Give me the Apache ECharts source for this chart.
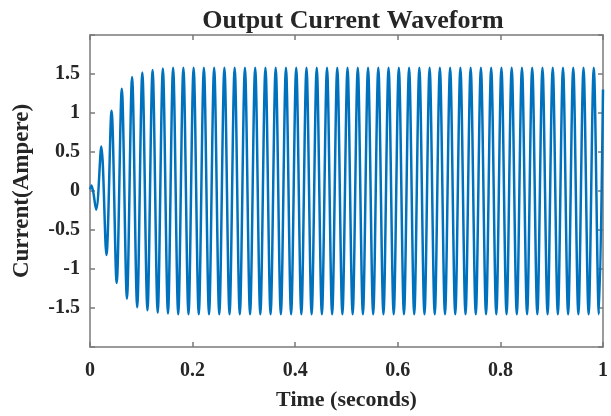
<!DOCTYPE html>
<html>
<head>
<meta charset="utf-8">
<script src="https://cdn.jsdelivr.net/npm/echarts@6/dist/echarts.min.js"></script>
<style>html,body{margin:0;padding:0;background:#fff;}#chart{width:611px;height:416px;}</style>
</head>
<body>
<div id="chart"></div>
<script>
// Extrema of the waveform (time in seconds)
const times = [
  0, 0.003,
  0.012, 0.022, 0.032, 0.042, 0.052, 0.062, 0.072, 0.082, 0.092, 0.102,
  0.112, 0.122, 0.132, 0.142, 0.152, 0.162, 0.172, 0.182, 0.192, 0.202,
  0.212, 0.222, 0.232, 0.242, 0.252, 0.262, 0.272, 0.282, 0.292, 0.302,
  0.312, 0.322, 0.332, 0.342, 0.352, 0.362, 0.372, 0.382, 0.392, 0.402,
  0.412, 0.422, 0.432, 0.442, 0.452, 0.462, 0.472, 0.482, 0.492, 0.502,
  0.512, 0.522, 0.532, 0.542, 0.552, 0.562, 0.572, 0.582, 0.592, 0.602,
  0.612, 0.622, 0.632, 0.642, 0.652, 0.662, 0.672, 0.682, 0.692, 0.702,
  0.712, 0.722, 0.732, 0.742, 0.752, 0.762, 0.772, 0.782, 0.792, 0.802,
  0.812, 0.822, 0.832, 0.842, 0.852, 0.862, 0.872, 0.882, 0.892, 0.902,
  0.912, 0.922, 0.932, 0.942, 0.952, 0.962, 0.972, 0.982, 0.992,
  1.0
];
const current = [
  0.02, 0.07,
  -0.24, 0.57, -0.82, 1.03, -1.18, 1.31, -1.38, 1.46, -1.49, 1.52,
  -1.53, 1.55, -1.56, 1.57, -1.57, 1.58, -1.58, 1.58, -1.58, 1.58,
  -1.58, 1.58, -1.58, 1.58, -1.58, 1.58, -1.58, 1.58, -1.58, 1.58,
  -1.58, 1.58, -1.58, 1.58, -1.58, 1.58, -1.58, 1.58, -1.58, 1.58,
  -1.58, 1.58, -1.58, 1.58, -1.58, 1.58, -1.58, 1.58, -1.58, 1.58,
  -1.58, 1.58, -1.58, 1.58, -1.58, 1.58, -1.58, 1.58, -1.58, 1.58,
  -1.58, 1.58, -1.58, 1.58, -1.58, 1.58, -1.58, 1.58, -1.58, 1.58,
  -1.58, 1.58, -1.58, 1.58, -1.58, 1.58, -1.58, 1.58, -1.58, 1.58,
  -1.58, 1.58, -1.58, 1.58, -1.58, 1.58, -1.58, 1.58, -1.58, 1.58,
  -1.58, 1.58, -1.58, 1.58, -1.58, 1.58, -1.58, 1.58, -1.58,
  1.3
];
const xTickLabels = ['0', '0.2', '0.4', '0.6', '0.8', '1'];
const yTickLabels = ['-1.5', '-1', '-0.5', '0', '0.5', '1', '1.5'];

const chart = echarts.init(document.getElementById('chart'), null, {renderer: 'canvas'});
const frameColor = '#7a7a7a';
const textColor = '#262626';
const serif = 'Liberation Serif, Times New Roman, serif';
const fmt = v => String(Math.round(v * 10) / 10);
const xFmt = v => { const s = fmt(v); return xTickLabels.indexOf(s) >= 0 ? s : ''; };
const yFmt = v => { const s = fmt(v); return yTickLabels.indexOf(s) >= 0 ? s : ''; };

const axisCommon = {
  axisLine: {show: true, onZero: false, lineStyle: {color: frameColor, width: 1.5}},
  axisTick: {show: true, inside: true, length: 5, lineStyle: {color: frameColor, width: 1.5}},
  splitLine: {show: false}
};

chart.setOption({
  animation: false,
  backgroundColor: '#ffffff',
  title: {
    text: 'Output Current Waveform',
    left: 348,
    top: 3,
    textAlign: 'center',
    textStyle: {fontFamily: serif, fontWeight: 'bold', fontSize: 26, color: textColor}
  },
  grid: {left: 90, right: 5, top: 35, bottom: 67},
  xAxis: [
    Object.assign({
      type: 'value', min: 0, max: 1, interval: 0.2, position: 'bottom',
      name: 'Time (seconds)', nameLocation: 'middle', nameGap: 42,
      nameTextStyle: {fontFamily: serif, fontWeight: 'bold', fontSize: 22, color: textColor},
      axisLabel: {formatter: xFmt, margin: 14, fontFamily: serif, fontWeight: 'bold', fontSize: 20, color: textColor}
    }, axisCommon),
    Object.assign({
      type: 'value', min: 0, max: 1, interval: 0.2, position: 'top',
      axisLabel: {show: false}
    }, axisCommon)
  ],
  yAxis: [
    Object.assign({
      type: 'value', min: -2, max: 2, interval: 0.5, position: 'left',
      name: 'Current(Ampere)', nameLocation: 'middle', nameGap: 56,
      nameTextStyle: {fontFamily: serif, fontWeight: 'bold', fontSize: 23, color: textColor},
      axisLabel: {formatter: yFmt, margin: 10, fontFamily: serif, fontWeight: 'bold', fontSize: 20, color: textColor}
    }, axisCommon),
    Object.assign({
      type: 'value', min: -2, max: 2, interval: 0.5, position: 'right',
      axisLabel: {show: false}
    }, axisCommon)
  ],
  series: [{
    type: 'line',
    xAxisIndex: 0, yAxisIndex: 0,
    data: times.map((t, i) => [t, current[i]]),
    showSymbol: false,
    smooth: 0.33,
    lineStyle: {color: '#0072BD', width: 2.5},
    clip: true
  }]
});
</script>
</body>
</html>
